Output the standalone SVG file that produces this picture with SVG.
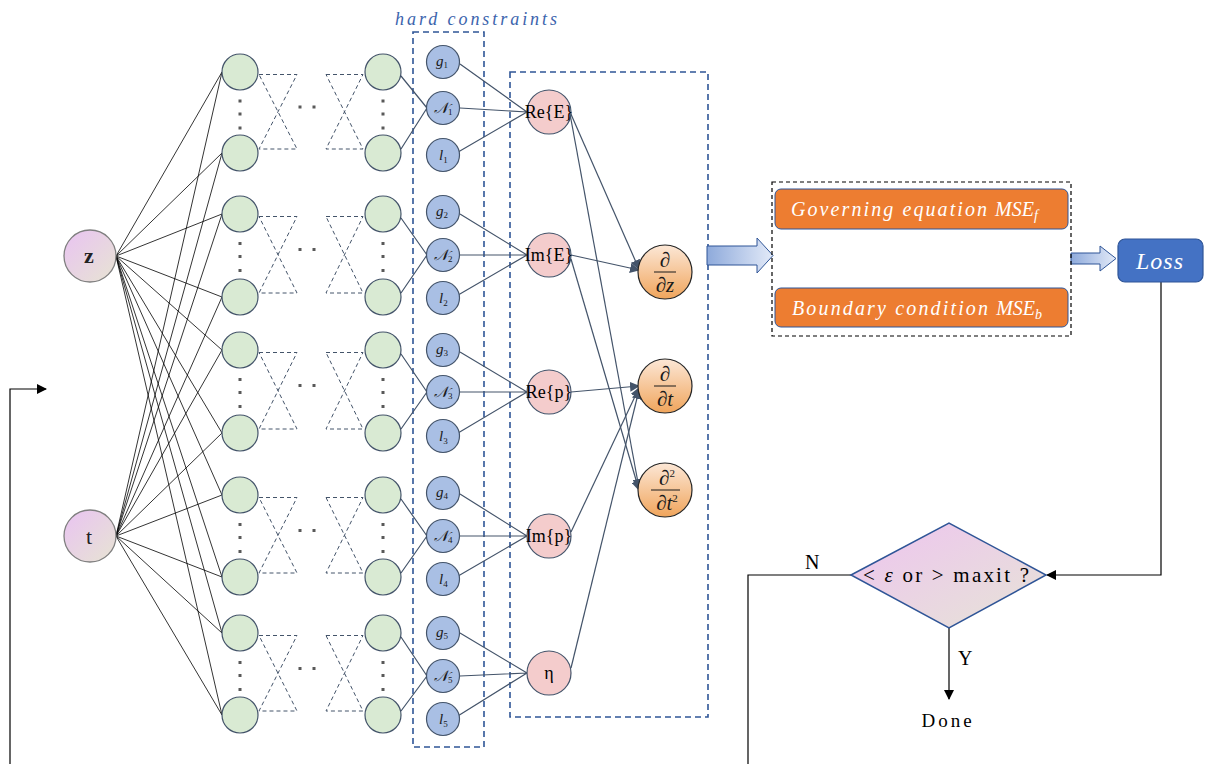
<svg xmlns="http://www.w3.org/2000/svg" width="1207" height="764" viewBox="0 0 1207 764">
<defs>
<linearGradient id="gPink" x1="0" y1="0" x2="1" y2="1"><stop offset="0" stop-color="#e9c3f2"/><stop offset="1" stop-color="#e7e4d3"/></linearGradient>
<linearGradient id="gDia" x1="0" y1="0" x2="1" y2="1"><stop offset="0" stop-color="#eec4f0"/><stop offset="1" stop-color="#e6e4d6"/></linearGradient>
<linearGradient id="gOr" x1="0" y1="0" x2="0" y2="1"><stop offset="0" stop-color="#fce7d6"/><stop offset="1" stop-color="#f0a55c"/></linearGradient>
<linearGradient id="gArr" x1="0" y1="0" x2="1" y2="0"><stop offset="0" stop-color="#8eaadb"/><stop offset="1" stop-color="#e3eaf8"/></linearGradient>
<marker id="aS" viewBox="0 0 10 10" refX="9" refY="5" markerWidth="10" markerHeight="10" markerUnits="userSpaceOnUse" orient="auto"><path d="M0,0 L10,5 L0,10 z" fill="#44546a"/></marker>
<marker id="aK" viewBox="0 0 10 10" refX="9" refY="5" markerWidth="10" markerHeight="10" markerUnits="userSpaceOnUse" orient="auto"><path d="M0,0 L10,5 L0,10 z" fill="#000"/></marker>
<style>
.in{fill:url(#gPink);stroke:#7f7f7f;stroke-width:1.3}
.gr{fill:#d9ead3;stroke:#44546a;stroke-width:1.2}
.bl{fill:#a9bfe4;stroke:#44546a;stroke-width:1.2}
.pk{fill:#f4cccc;stroke:#44546a;stroke-width:1.2}
.or{fill:url(#gOr);stroke:#262626;stroke-width:1.2}
.bow{fill:none;stroke:#44546a;stroke-width:1;stroke-dasharray:4 3}
.dot{fill:#595959}
.k{stroke:#000;stroke-width:0.8;fill:none}
.s{stroke:#44546a;stroke-width:1.2;fill:none}
.sa{stroke:#44546a;stroke-width:1.2;fill:none;marker-end:url(#aS)}
.box{fill:none;stroke:#2f5597;stroke-width:1.6;stroke-dasharray:6 4}
.serif{font-family:"Liberation Serif","DejaVu Serif",serif}
.lbl{font-family:"Liberation Serif","DejaVu Serif",serif;font-style:italic;font-size:15px;fill:#1a1a1a}
.sub{font-size:9px;font-style:normal}
.pt{font-family:"Liberation Serif","DejaVu Serif",serif;font-size:18px;fill:#000;text-anchor:middle}
.dv{font-family:"Liberation Serif","DejaVu Serif",serif;font-style:italic;font-size:21px;fill:#1a1a1a;text-anchor:middle}
.wt{font-family:"Liberation Serif","DejaVu Serif",serif;font-style:italic;font-size:20px;fill:#fff}
</style>
</defs>
<rect width="1207" height="764" fill="#fff"/>

<g id="hard-constraints-box">
<rect x="413" y="32" width="71" height="715" class="box"/>
<text x="476" y="25" text-anchor="middle" textLength="162" lengthAdjust="spacing" class="serif" style="font-style:italic;font-size:18px;fill:#3c64ad">hard constraints</text>
</g>
<g id="output-box"><rect x="510" y="72" width="198" height="645" class="box"/></g>

<g id="connectors">
<g class="k">
<path d="M116,256 L222,72 M116,256 L222,153 M116,256 L222,214 M116,256 L222,297 M116,256 L222,350 M116,256 L222,433 M116,256 L222,495 M116,256 L222,577 M116,256 L222,633 M116,256 L222,715"/>
<path d="M116,536 L222,72 M116,536 L222,153 M116,536 L222,214 M116,536 L222,297 M116,536 L222,350 M116,536 L222,433 M116,536 L222,495 M116,536 L222,577 M116,536 L222,633 M116,536 L222,715"/>
</g>
<g class="bow">
<path d="M259,74.5 H297 L259,149 H297 L259,74.5 M326,74.5 H363 L326,149 H363 L326,74.5"/>
<path d="M259,216.5 H297 L259,293 H297 L259,216.5 M326,216.5 H363 L326,293 H363 L326,216.5"/>
<path d="M259,352.5 H297 L259,429 H297 L259,352.5 M326,352.5 H363 L326,429 H363 L326,352.5"/>
<path d="M259,497.5 H297 L259,573 H297 L259,497.5 M326,497.5 H363 L326,573 H363 L326,497.5"/>
<path d="M259,635.5 H297 L259,711 H297 L259,635.5 M326,635.5 H363 L326,711 H363 L326,635.5"/>
</g>
<g class="s">
<path d="M401,76 L427,108 M401,149 L427,108"/>
<path d="M401,218 L427,255 M401,293 L427,255"/>
<path d="M401,354 L427,392 M401,429 L427,392"/>
<path d="M401,499 L427,536 M401,573 L427,536"/>
<path d="M401,637 L427,676 M401,711 L427,676"/>
</g>
<g class="s">
<path d="M460,64 L527,112 M460,108 L527,112 M453,155 L527,112"/>
<path d="M460,214 L527,255 M460,255 L527,255 M453,298 L527,255"/>
<path d="M460,352 L527,392 M460,392 L527,392 M453,436 L527,392"/>
<path d="M460,494 L527,536 M460,536 L527,536 M453,579 L527,536"/>
<path d="M460,633 L527,673 M460,676 L527,673 M453,719 L527,673"/>
</g>
<path class="sa" d="M570,112 L639,269"/>
<path class="sa" d="M570,114 L639,488"/>
<path class="sa" d="M571,255 L639,270"/>
<path class="sa" d="M571,259 L639,490"/>
<path class="sa" d="M571,392 L639,386"/>
<path class="sa" d="M571,532 L639,388"/>
<path class="sa" d="M571,668 L639,390"/>
<path d="M707,246 H757 V238 L773,255.5 L757,273 V265 H707 Z" fill="url(#gArr)" stroke="#2f5597" stroke-width="1"/>
<path d="M1071,253 H1100 V246 L1116,258.5 L1100,271 V264 H1071 Z" fill="url(#gArr)" stroke="#2f5597" stroke-width="1"/>
<path d="M1161,282 V575 H1047" class="k" style="stroke-width:1.2" marker-end="url(#aK)"/>
<path d="M949,628 V699" class="k" style="stroke-width:1.2" marker-end="url(#aK)"/>
<path d="M851,575 H748 V764" class="k" style="stroke-width:1.2"/>
<path d="M10,764 V389 H46" class="k" style="stroke-width:1.2" marker-end="url(#aK)"/>
<text x="805" y="569" class="serif" style="font-size:20px">N</text>
<text x="958" y="665" class="serif" style="font-size:20px">Y</text>
<text x="948" y="727" text-anchor="middle" class="serif" style="font-size:19px;letter-spacing:3px">Done</text>
</g>

<g id="node-z"><circle cx="90" cy="256" r="26" class="in"/><text x="89" y="263" class="pt" style="font-size:22px;font-weight:bold;fill:#222">z</text></g>
<g id="node-t"><circle cx="90" cy="536" r="26" class="in"/><text x="89" y="544" class="pt" style="font-size:22px;fill:#222">t</text></g>

<g id="hidden-layers">
<circle cx="240" cy="72" r="18" class="gr"/><circle cx="240" cy="153" r="18" class="gr"/>
<circle cx="383" cy="72" r="18" class="gr"/><circle cx="383" cy="153" r="18" class="gr"/>
<circle cx="240" cy="214" r="18" class="gr"/><circle cx="240" cy="297" r="18" class="gr"/>
<circle cx="383" cy="214" r="18" class="gr"/><circle cx="383" cy="297" r="18" class="gr"/>
<circle cx="240" cy="350" r="18" class="gr"/><circle cx="240" cy="433" r="18" class="gr"/>
<circle cx="383" cy="350" r="18" class="gr"/><circle cx="383" cy="433" r="18" class="gr"/>
<circle cx="240" cy="495" r="18" class="gr"/><circle cx="240" cy="577" r="18" class="gr"/>
<circle cx="383" cy="495" r="18" class="gr"/><circle cx="383" cy="577" r="18" class="gr"/>
<circle cx="240" cy="633" r="18" class="gr"/><circle cx="240" cy="715" r="18" class="gr"/>
<circle cx="383" cy="633" r="18" class="gr"/><circle cx="383" cy="715" r="18" class="gr"/>
<g class="dot">
<rect x="238.5" y="99.5" width="3" height="3"/><rect x="238.5" y="112.5" width="3" height="3"/><rect x="238.5" y="126.5" width="3" height="3"/>
<rect x="381.5" y="99.5" width="3" height="3"/><rect x="381.5" y="112.5" width="3" height="3"/><rect x="381.5" y="126.5" width="3" height="3"/>
<rect x="298.5" y="105.5" width="3" height="3"/><rect x="312.5" y="105.5" width="3" height="3"/>
<rect x="238.5" y="242" width="3" height="3"/><rect x="238.5" y="255" width="3" height="3"/><rect x="238.5" y="269" width="3" height="3"/>
<rect x="381.5" y="242" width="3" height="3"/><rect x="381.5" y="255" width="3" height="3"/><rect x="381.5" y="269" width="3" height="3"/>
<rect x="298.5" y="248" width="3" height="3"/><rect x="312.5" y="248" width="3" height="3"/>
<rect x="238.5" y="378" width="3" height="3"/><rect x="238.5" y="391" width="3" height="3"/><rect x="238.5" y="405" width="3" height="3"/>
<rect x="381.5" y="378" width="3" height="3"/><rect x="381.5" y="391" width="3" height="3"/><rect x="381.5" y="405" width="3" height="3"/>
<rect x="298.5" y="384" width="3" height="3"/><rect x="312.5" y="384" width="3" height="3"/>
<rect x="238.5" y="523" width="3" height="3"/><rect x="238.5" y="536" width="3" height="3"/><rect x="238.5" y="550" width="3" height="3"/>
<rect x="381.5" y="523" width="3" height="3"/><rect x="381.5" y="536" width="3" height="3"/><rect x="381.5" y="550" width="3" height="3"/>
<rect x="298.5" y="529" width="3" height="3"/><rect x="312.5" y="529" width="3" height="3"/>
<rect x="238.5" y="661" width="3" height="3"/><rect x="238.5" y="674" width="3" height="3"/><rect x="238.5" y="688" width="3" height="3"/>
<rect x="381.5" y="661" width="3" height="3"/><rect x="381.5" y="674" width="3" height="3"/><rect x="381.5" y="688" width="3" height="3"/>
<rect x="298.5" y="667" width="3" height="3"/><rect x="312.5" y="667" width="3" height="3"/>
</g>
</g>

<g id="g1"><circle cx="443" cy="62" r="16.5" class="bl"/><text x="436" y="66" class="lbl">g<tspan class="sub" dy="2">1</tspan></text></g>
<g id="N1"><circle cx="443" cy="108" r="16.5" class="bl"/><text x="434" y="113" class="lbl">𝒩<tspan class="sub" dy="2">1</tspan></text></g>
<g id="l1"><circle cx="443" cy="155" r="16.5" class="bl"/><text x="439" y="160" class="lbl">l<tspan class="sub" dy="3">1</tspan></text></g>
<g id="g2"><circle cx="443" cy="212" r="16.5" class="bl"/><text x="436" y="216" class="lbl">g<tspan class="sub" dy="2">2</tspan></text></g>
<g id="N2"><circle cx="443" cy="255" r="16.5" class="bl"/><text x="434" y="260" class="lbl">𝒩<tspan class="sub" dy="2">2</tspan></text></g>
<g id="l2"><circle cx="443" cy="298" r="16.5" class="bl"/><text x="439" y="303" class="lbl">l<tspan class="sub" dy="3">2</tspan></text></g>
<g id="g3"><circle cx="443" cy="350" r="16.5" class="bl"/><text x="436" y="354" class="lbl">g<tspan class="sub" dy="2">3</tspan></text></g>
<g id="N3"><circle cx="443" cy="392" r="16.5" class="bl"/><text x="434" y="397" class="lbl">𝒩<tspan class="sub" dy="2">3</tspan></text></g>
<g id="l3"><circle cx="443" cy="436" r="16.5" class="bl"/><text x="439" y="441" class="lbl">l<tspan class="sub" dy="3">3</tspan></text></g>
<g id="g4"><circle cx="443" cy="493" r="16.5" class="bl"/><text x="436" y="497" class="lbl">g<tspan class="sub" dy="2">4</tspan></text></g>
<g id="N4"><circle cx="443" cy="536" r="16.5" class="bl"/><text x="434" y="541" class="lbl">𝒩<tspan class="sub" dy="2">4</tspan></text></g>
<g id="l4"><circle cx="443" cy="579" r="16.5" class="bl"/><text x="439" y="584" class="lbl">l<tspan class="sub" dy="3">4</tspan></text></g>
<g id="g5"><circle cx="443" cy="633" r="16.5" class="bl"/><text x="436" y="637" class="lbl">g<tspan class="sub" dy="2">5</tspan></text></g>
<g id="N5"><circle cx="443" cy="676" r="16.5" class="bl"/><text x="434" y="681" class="lbl">𝒩<tspan class="sub" dy="2">5</tspan></text></g>
<g id="l5"><circle cx="443" cy="719" r="16.5" class="bl"/><text x="439" y="724" class="lbl">l<tspan class="sub" dy="3">5</tspan></text></g>

<g id="ReE"><circle cx="549" cy="112" r="22" class="pk"/><text x="549" y="118" class="pt">Re{E}</text></g>
<g id="ImE"><circle cx="549" cy="255" r="22" class="pk"/><text x="549" y="261" class="pt">Im{E}</text></g>
<g id="Rep"><circle cx="549" cy="392" r="22" class="pk"/><text x="549" y="398" class="pt">Re{p}</text></g>
<g id="Imp"><circle cx="549" cy="536" r="22" class="pk"/><text x="549" y="542" class="pt">Im{p}</text></g>
<g id="eta"><circle cx="549" cy="673" r="22" class="pk"/><text x="549" y="679" class="pt">η</text></g>

<g id="d-dz"><circle cx="665" cy="272" r="27" class="or"/><text x="665" y="267" class="dv">∂</text><line x1="654" y1="272" x2="676" y2="272" stroke="#1a1a1a" stroke-width="1"/><text x="665" y="292" class="dv">∂z</text></g>
<g id="d-dt"><circle cx="665" cy="386" r="27" class="or"/><text x="665" y="381" class="dv">∂</text><line x1="654" y1="386" x2="676" y2="386" stroke="#1a1a1a" stroke-width="1"/><text x="665" y="406" class="dv">∂t</text></g>
<g id="d2-dt2"><circle cx="665" cy="490" r="27" class="or"/><text x="667" y="485" class="dv">∂<tspan font-size="11" dy="-8" font-style="normal">2</tspan></text><line x1="651" y1="490" x2="680" y2="490" stroke="#1a1a1a" stroke-width="1"/><text x="667" y="510" class="dv">∂t<tspan font-size="11" dy="-8" font-style="normal">2</tspan></text></g>

<g id="loss-terms">
<rect x="772" y="182" width="299" height="154" fill="none" stroke="#000" stroke-width="1.2" stroke-dasharray="4 3"/>
</g>
<g id="mse-f"><rect x="775" y="189" width="293" height="40" rx="6" fill="#ed7d31" stroke="#2f5597" stroke-width="1"/><text x="791" y="216" class="wt"><tspan textLength="196" lengthAdjust="spacing">Governing equation</tspan><tspan dx="6">MSE</tspan><tspan font-size="14" dy="4">f</tspan></text></g>
<g id="mse-b"><rect x="775" y="288" width="293" height="39" rx="6" fill="#ed7d31" stroke="#2f5597" stroke-width="1"/><text x="792" y="315" class="wt"><tspan textLength="196" lengthAdjust="spacing">Boundary condition</tspan><tspan dx="6">MSE</tspan><tspan font-size="14" dy="4">b</tspan></text></g>
<g id="loss"><rect x="1118" y="239" width="85" height="43" rx="7" fill="#4472c4" stroke="#2f5597" stroke-width="1.2"/><text x="1160" y="269" text-anchor="middle" class="wt" style="font-size:24px;letter-spacing:1px">Loss</text></g>

<g id="decision"><path d="M851,575 L949,523 L1046,575 L949,628 Z" fill="url(#gDia)" stroke="#2f5597" stroke-width="1.5"/><text x="946" y="582" text-anchor="middle" textLength="166" lengthAdjust="spacing" class="serif" style="font-size:21px">&lt; <tspan font-style="italic">ε</tspan> or  &gt; maxit ?</text></g>
</svg>
